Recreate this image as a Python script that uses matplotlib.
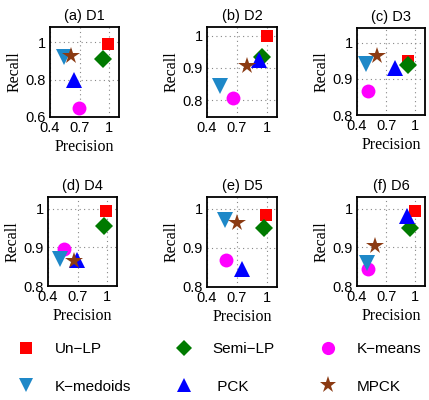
import matplotlib
matplotlib.use("Agg")
import matplotlib.pyplot as plt

methods = ["Un\u2212LP", "Semi\u2212LP", "K\u2212means", "K\u2212medoids", " PCK", "MPCK"]
markers = ["s", "D", "o", "v", "^", "*"]
colors = ["#ff0000", "#007a00", "#ff00ff", "#1e88c8", "#0000ff", "#8b3a12"]
sizes = [9, 9, 10, 11, 11, 13]

titles = ["(a) D1", "(b) D2", "(c) D3", "(d) D4", "(e) D5", "(f) D6"]

# precision / recall per dataset, same order as methods
precision = {
    "D1": [0.99, 0.94, 0.69, 0.54, 0.64, 0.61],
    "D2": [1.00, 0.95, 0.66, 0.53, 0.92, 0.80],
    "D3": [0.93, 0.93, 0.51, 0.49, 0.79, 0.61],
    "D4": [0.99, 0.965, 0.56, 0.52, 0.69, 0.66],
    "D5": [0.99, 0.965, 0.59, 0.58, 0.75, 0.70],
    "D6": [1.00, 0.95, 0.51, 0.50, 0.91, 0.59],
}
recall = {
    "D1": [0.99, 0.91, 0.65, 0.92, 0.795, 0.925],
    "D2": [1.00, 0.935, 0.805, 0.845, 0.925, 0.905],
    "D3": [0.948, 0.939, 0.866, 0.94, 0.93, 0.964],
    "D4": [0.995, 0.955, 0.895, 0.87, 0.867, 0.864],
    "D5": [0.983, 0.95, 0.868, 0.972, 0.846, 0.963],
    "D6": [0.994, 0.95, 0.845, 0.86, 0.98, 0.903],
}
yticks = {
    "D1": [0.6, 0.8, 1.0],
    "D2": [0.8, 0.9, 1.0],
    "D3": [0.8, 0.9, 1.0],
    "D4": [0.8, 0.9, 1.0],
    "D5": [0.8, 0.9, 1.0],
    "D6": [0.8, 0.9, 1.0],
}
ylims = {
    "D1": (0.6, 1.08),
    "D2": (0.747, 1.028),
    "D3": (0.8, 1.04),
    "D4": (0.8, 1.03),
    "D5": (0.8, 1.03),
    "D6": (0.8, 1.03),
}
xticks = [0.4, 0.7, 1.0]

W, H = 429, 400
boxes = [  # left, top, right, bottom in pixels
    (50, 27, 119, 117),
    (207, 27, 277, 117),
    (357, 28, 425, 115),
    (48, 197, 117, 286),
    (207, 197, 277, 287),
    (357, 197, 425, 286),
]

fig = plt.figure(figsize=(W / 100, H / 100), dpi=100)
sans = ["Liberation Sans", "DejaVu Sans"]
serif = ["Liberation Serif", "DejaVu Serif"]

handles = []
for i, (title, box) in enumerate(zip(titles, boxes)):
    key = title.split()[-1]
    l, t, r, b = box
    ax = fig.add_axes([l / W, (H - b) / H, (r - l) / W, (b - t) / H])
    for j, m in enumerate(methods):
        h, = ax.plot(precision[key][j], recall[key][j], linestyle="none",
                     marker=markers[j], color=colors[j], markersize=sizes[j],
                     markeredgewidth=0, label=m)
        if i == 0:
            handles.append(h)
    ax.set_xlim(0.4, 1.1)
    ax.set_ylim(*ylims[key])
    ax.set_xticks(xticks)
    ax.set_xticklabels(["0.4", "0.7", "1"], family=sans, fontsize=10.5)
    ax.set_yticks(yticks[key])
    ax.set_yticklabels([f"{v:g}" for v in yticks[key]], family=sans, fontsize=10.5)
    ax.tick_params(length=0, pad=3)
    ax.grid(True, linestyle=(0, (1, 3)), color="#888888", linewidth=0.8)
    for s in ax.spines.values():
        s.set_linewidth(1.3)
    ax.set_title(title, family=sans, fontsize=10.5, pad=5)
    ax.set_ylabel("Recall", family=serif, fontsize=11.5, labelpad=2)
    if key != "D2":
        ax.set_xlabel("Precision", family=serif, fontsize=11.5, labelpad=3)

order = [0, 3, 1, 4, 2, 5]
fig.legend([handles[k] for k in order], [methods[k] for k in order],
           ncol=3, loc="upper left", bbox_to_anchor=(15 / W, 1 - 342 / H),
           frameon=False, prop={"family": sans, "size": 11},
           borderpad=0, borderaxespad=0,
           columnspacing=2.75, handletextpad=1.2, labelspacing=1.55,
           handlelength=1.4, markerscale=0.95)

fig.savefig("out.png", dpi=100)
